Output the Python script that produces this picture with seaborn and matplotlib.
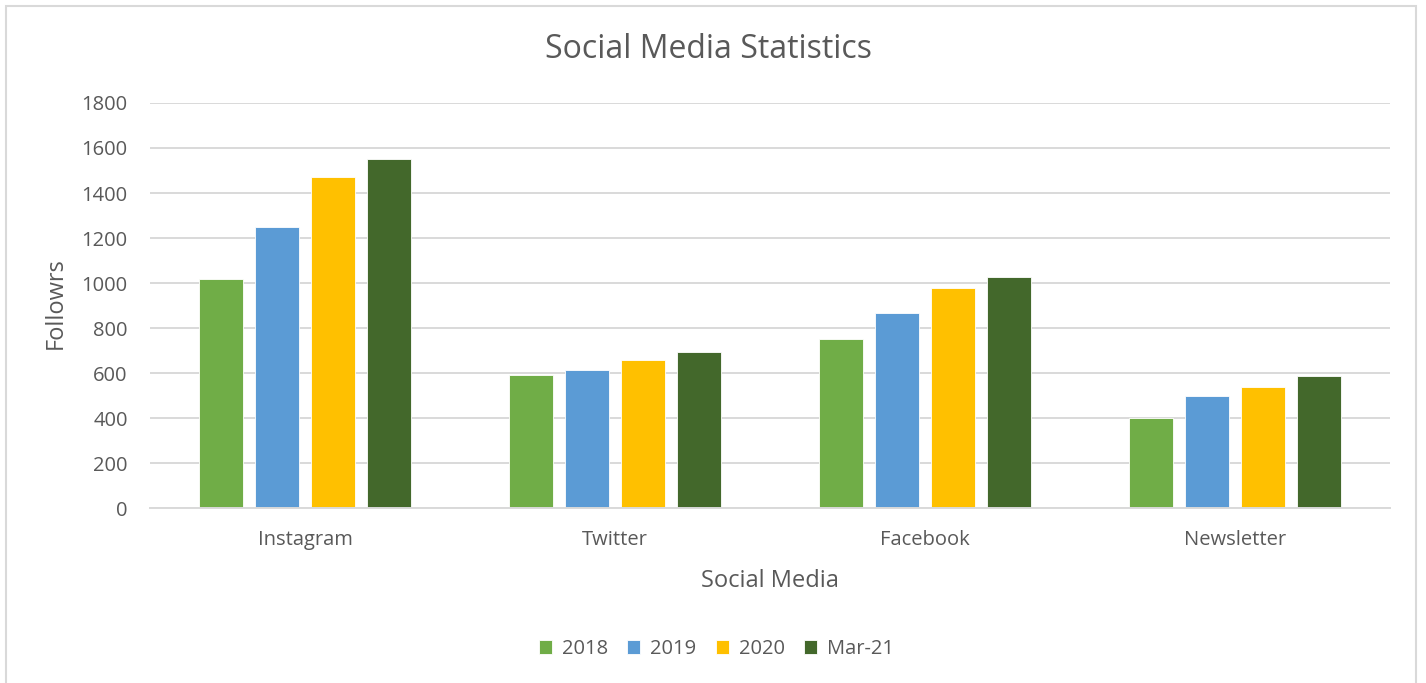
import matplotlib
matplotlib.use("Agg")
import matplotlib.pyplot as plt
import seaborn as sns
import pandas as pd
from matplotlib.patches import Rectangle

categories = ["Instagram", "Twitter", "Facebook", "Newsletter"]
series_names = ["2018", "2019", "2020", "Mar-21"]
v2018 = [1020, 593, 750, 400]
v2019 = [1250, 613, 868, 500]
v2020 = [1470, 656, 976, 536]
vmar21 = [1550, 692, 1027, 586]
colors = ["#70AD47", "#5B9BD5", "#FFC000", "#43682B"]
yticks = [0, 200, 400, 600, 800, 1000, 1200, 1400, 1600, 1800]

rows = []
for name, vals in zip(series_names, [v2018, v2019, v2020, vmar21]):
    for c, v in zip(categories, vals):
        rows.append({"Social Media": c, "Series": name, "Followers": v})
df = pd.DataFrame(rows)

sns.set_theme(style="white")
plt.rcParams["font.family"] = ["Open Sans", "DejaVu Sans"]
txt = "#595959"

fig = plt.figure(figsize=(14.26, 6.83), dpi=100)
ax = fig.add_axes([0.1052, 0.2562, 0.8696, 0.593])

sns.barplot(data=df, x="Social Media", y="Followers", hue="Series",
            order=categories, hue_order=series_names, palette=colors,
            width=0.7226, gap=0.21, ax=ax, saturation=1, legend=True,
            edgecolor="white", linewidth=0.6)

ax.set_ylim(0, 1800)
ax.set_xlim(-0.5, 3.5)
ax.set_yticks(yticks)
ax.set_yticklabels([str(t) for t in yticks])
ax.yaxis.grid(True, color="#d9d9d9", linewidth=1.4)
ax.set_axisbelow(True)
for s in ["top", "right", "left"]:
    ax.spines[s].set_visible(False)
ax.spines["bottom"].set_color("#d9d9d9")
ax.spines["bottom"].set_linewidth(1.4)
ax.tick_params(axis="both", length=0, labelsize=14.5, labelcolor=txt)
ax.tick_params(axis="x", pad=16)
ax.tick_params(axis="y", pad=16)

ax.set_xlabel("Social Media", fontsize=17, color=txt)
ax.xaxis.label.set_va("baseline")
ax.xaxis.set_label_coords(0.5, -(587 - 508) / 405)
ax.set_ylabel("Followrs", fontsize=17, color=txt)
ax.yaxis.label.set_va("center")
ax.yaxis.label.set_ha("center")
ax.yaxis.set_label_coords((56 - 150) / 1240, 0.505)

fig.text(708.5 / 1426, 1 - 58 / 683, "Social Media Statistics", ha="center",
         va="baseline", fontsize=23, color=txt)

handles, labels = ax.get_legend_handles_labels()
ax.legend(handles, labels, loc="center", bbox_to_anchor=(716.5 / 1426, 1 - 649 / 683),
          bbox_transform=fig.transFigure, ncol=4, frameon=False,
          fontsize=14.5, labelcolor=txt, handlelength=0.65, handleheight=0.65,
          handletextpad=0.5, columnspacing=0.95)

fig.patches.append(Rectangle((6 / 1426, -0.01), 1410 / 1426, 1.01 - 5.5 / 683,
                             transform=fig.transFigure, fill=False,
                             edgecolor="#d9d9d9", linewidth=1.5))

fig.savefig("out.png", dpi=100)
